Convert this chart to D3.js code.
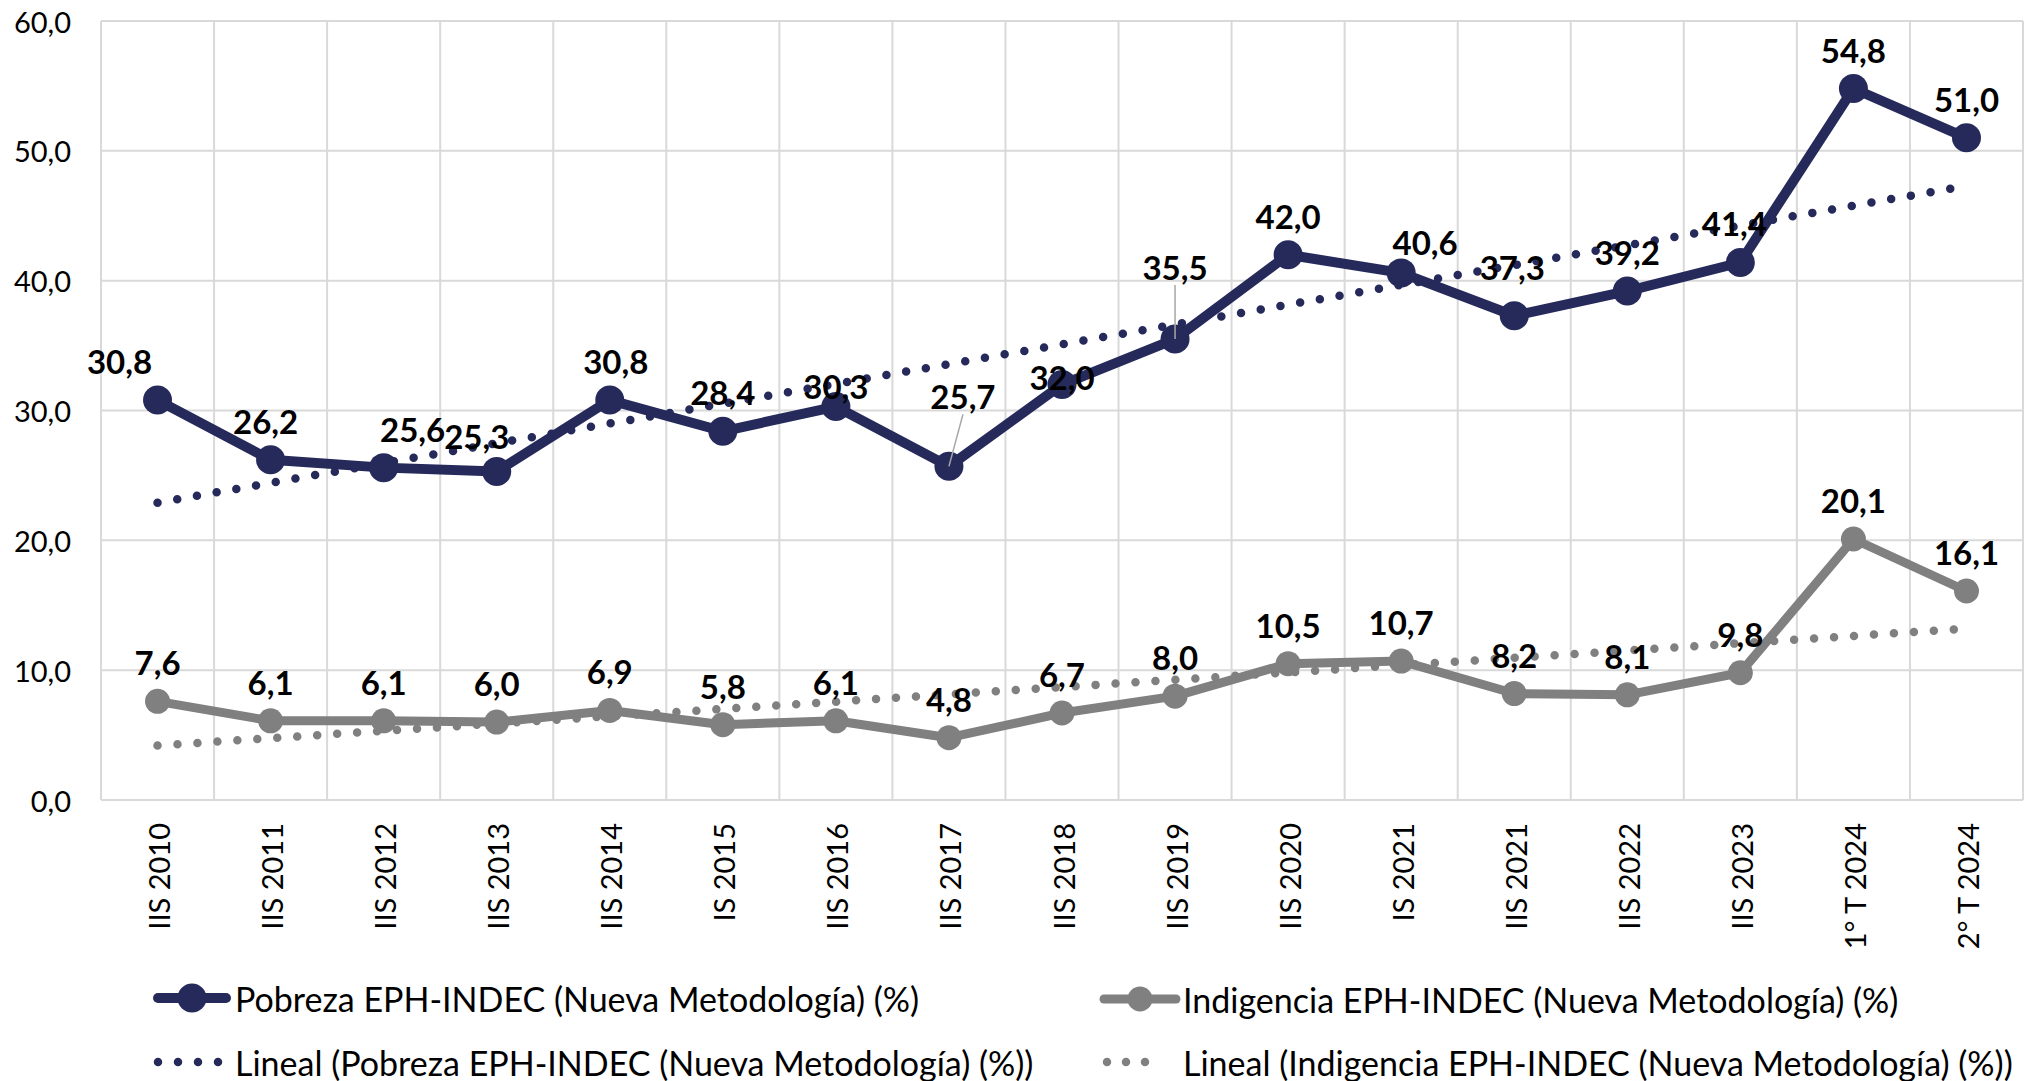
<!DOCTYPE html>
<html lang="es">
<head>
<meta charset="UTF-8"/>
<title>Pobreza e Indigencia EPH-INDEC</title>
<script src="https://cdn.jsdelivr.net/npm/d3@7"></script>
<style>
  body { margin: 0; background: #fff; }
  svg { display: block; font-family: Lato, "Open Sans", sans-serif; }
  .grid line { stroke: #d9d9d9; stroke-width: 2; }
  .tick-y { font-size: 29px; fill: #000; }
  .tick-x { font-size: 29px; fill: #000; }
  .lbl { font-size: 33px; font-weight: bold; fill: #000; }
  .legend text { font-size: 34px; fill: #000; }
</style>
</head>
<body>
<svg id="chart" width="2028" height="1081"></svg>
<script>
// data
var categories = ["IIS 2010","IIS 2011","IIS 2012","IIS 2013","IIS 2014","IS 2015","IIS 2016","IIS 2017",
                  "IIS 2018","IIS 2019","IIS 2020","IS 2021","IIS 2021","IIS 2022","IIS 2023","1° T 2024","2° T 2024"];
var pobreza    = [30.8, 26.2, 25.6, 25.3, 30.8, 28.4, 30.3, 25.7, 32.0, 35.5, 42.0, 40.6, 37.3, 39.2, 41.4, 54.8, 51.0];
var indigencia = [7.6, 6.1, 6.1, 6.0, 6.9, 5.8, 6.1, 4.8, 6.7, 8.0, 10.5, 10.7, 8.2, 8.1, 9.8, 20.1, 16.1];
// linear trendlines: value at first and last category
var trendPobreza    = [22.9, 47.3];
var trendIndigencia = [4.2, 13.2];
var yTicks = [0, 10, 20, 30, 40, 50, 60];
var legendNames = ["Pobreza EPH-INDEC (Nueva Metodología) (%)",
                   "Indigencia EPH-INDEC (Nueva Metodología) (%)",
                   "Lineal (Pobreza EPH-INDEC (Nueva Metodología) (%))",
                   "Lineal (Indigencia EPH-INDEC (Nueva Metodología) (%))"];

var navy = "#262a5a", gray = "#808080";

var svg = d3.select("#chart");
var plotLeft = 101, plotRight = 2023, plotTop = 21, plotBottom = 800;

var x = d3.scaleBand().domain(categories).range([plotLeft, plotRight]);
var cx = function(c) { return x(c) + x.bandwidth() / 2; };
var y = d3.scaleLinear().domain([0, 60]).range([plotBottom, plotTop]);

var es = d3.formatLocale({decimal: ",", thousands: ".", grouping: [3], currency: ["$", ""]});
var fmt = es.format(".1f");

// gridlines
var grid = svg.append("g").attr("class", "grid");
grid.selectAll(".h").data(yTicks).enter().append("line")
    .attr("x1", plotLeft).attr("x2", plotRight)
    .attr("y1", function(d) { return y(d); }).attr("y2", function(d) { return y(d); });
grid.selectAll(".v").data(categories.concat(["_end"])).enter().append("line")
    .attr("x1", function(d, i) { return plotLeft + i * x.step(); })
    .attr("x2", function(d, i) { return plotLeft + i * x.step(); })
    .attr("y1", plotTop).attr("y2", plotBottom);

// y axis labels
svg.append("g").selectAll("text").data(yTicks).enter().append("text")
    .attr("class", "tick-y")
    .attr("x", 71).attr("y", function(d) { return y(d); })
    .attr("text-anchor", "end").attr("dominant-baseline", "central")
    .text(function(d) { return fmt(d); });

// x axis labels (rotated)
svg.append("g").selectAll("text").data(categories).enter().append("text")
    .attr("class", "tick-x")
    .attr("transform", function(d) { return "translate(" + (cx(d) + 1) + ",823) rotate(-90)"; })
    .attr("text-anchor", "end").attr("dominant-baseline", "central")
    .text(function(d) { return d; });

var line = d3.line()
    .x(function(d, i) { return cx(categories[i]); })
    .y(function(d) { return y(d); });

function drawSeries(vals, color, width, r) {
  svg.append("path").datum(vals)
      .attr("fill", "none").attr("stroke", color)
      .attr("stroke-width", width).attr("stroke-linejoin", "round")
      .attr("d", line);
  svg.append("g").selectAll("circle").data(vals).enter().append("circle")
      .attr("cx", function(d, i) { return cx(categories[i]); })
      .attr("cy", function(d) { return y(d); })
      .attr("r", r).attr("fill", color);
}
drawSeries(indigencia, gray, 9, 12.5);
drawSeries(pobreza, navy, 10, 14.5);

function drawTrend(ends, color) {
  var first = categories[0], last = categories[categories.length - 1];
  svg.append("line")
      .attr("x1", cx(first)).attr("y1", y(ends[0]))
      .attr("x2", cx(last)).attr("y2", y(ends[1]))
      .attr("stroke", color).attr("stroke-width", 8.5)
      .attr("stroke-linecap", "round").attr("stroke-dasharray", "0 20");
}
drawTrend(trendIndigencia, gray);
drawTrend(trendPobreza, navy);

// data labels; nudges copy the hand placed labels of the original
var shiftPob = {0: [-38, 0], 1: [-5, 0], 2: [29, 0], 3: [-20, 3], 4: [6, 0], 6: [0, 18],
                7: [14, -31], 8: [0, 31], 9: [0, -33], 11: [24, 8], 12: [-2, -10], 14: [-6, 0]};
var leaders = [7, 9];

function drawLabels(vals, shifts) {
  vals.forEach(function(v, i) {
    var s = shifts[i] || [0, 0];
    var px = cx(categories[i]), py = y(v);
    var lx = px + s[0], ly = py - 39 + s[1];
    if (shifts === shiftPob && leaders.indexOf(i) >= 0) {
      svg.append("line")
          .attr("x1", lx).attr("y1", ly + 18)
          .attr("x2", px).attr("y2", py)
          .attr("stroke", "#a6a6a6").attr("stroke-width", 1.5);
    }
    svg.append("text").attr("class", "lbl")
        .attr("x", lx).attr("y", ly)
        .attr("text-anchor", "middle").attr("dominant-baseline", "central")
        .text(fmt(v));
  });
}
drawLabels(pobreza, shiftPob);
drawLabels(indigencia, {});

// legend
var lg = svg.append("g").attr("class", "legend");
function legendMarker(x0, x1, yy, color, w, r) {
  lg.append("line").attr("x1", x0).attr("x2", x1).attr("y1", yy).attr("y2", yy)
      .attr("stroke", color).attr("stroke-width", w).attr("stroke-linecap", "round");
  lg.append("circle").attr("cx", (x0 + x1) / 2).attr("cy", yy).attr("r", r).attr("fill", color);
}
function legendDots(x0, x1, yy, color, gap) {
  lg.append("line").attr("x1", x0).attr("x2", x1).attr("y1", yy).attr("y2", yy)
      .attr("stroke", color).attr("stroke-width", 8.5)
      .attr("stroke-linecap", "round").attr("stroke-dasharray", "0 " + gap);
}
legendMarker(158, 226, 998, navy, 10, 14.5);
legendMarker(1104, 1176, 999, gray, 9, 12.5);
legendDots(158, 219, 1062, navy, 20);
legendDots(1107, 1164, 1062, gray, 19);

var legendPos = [[235, 998], [1183, 999], [235, 1062], [1183, 1062]];
lg.selectAll("text").data(legendNames).enter().append("text")
    .attr("x", function(d, i) { return legendPos[i][0]; })
    .attr("y", function(d, i) { return legendPos[i][1]; })
    .attr("dominant-baseline", "central")
    .text(function(d) { return d; });
</script>
</body>
</html>
